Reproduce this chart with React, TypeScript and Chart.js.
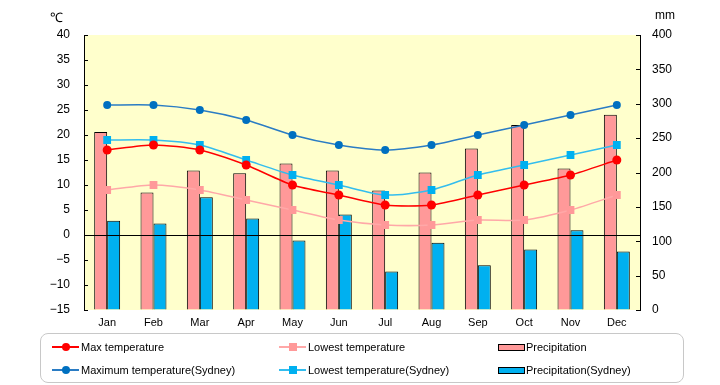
import React, { useEffect, useRef } from "react";
import { Chart, registerables } from "chart.js";
Chart.register(...registerables);

const months = ["Jan", "Feb", "Mar", "Apr", "May", "Jun", "Jul", "Aug", "Sep", "Oct", "Nov", "Dec"];
const maxTemp = [17, 18, 17, 14, 10, 8, 6, 6, 8, 10, 12, 15];
const lowTemp = [9, 10, 9, 7, 5, 3, 2, 2, 3, 3, 5, 8];
const precip = [259, 171, 203, 199, 213, 203, 174, 200, 235, 269, 206, 284];
const sydMax = [26, 26, 25, 23, 20, 18, 17, 18, 20, 22, 24, 26];
const sydLow = [19, 19, 18, 15, 12, 10, 8, 9, 12, 14, 16, 18];
const sydPrecip = [130, 126, 164, 133, 101, 139, 56, 98, 65, 88, 116, 85];

const FONT = "'Liberation Sans', Arial, sans-serif";

const C_RED = "#FF0000";
const C_PINK_LINE = "#FFA8A8";
const C_PINK = "#FF9999";
const C_DBLUE = "#0070C0";
const C_DBLUE_LINE = "#2A7CC4";
const C_LBLUE = "#00B0F0";
const C_LBLUE_LINE = "#33BDEE";

const areaPlugin = {
  id: "areaDeco",
  beforeDraw(chart: any) {
    const { ctx, chartArea } = chart;
    ctx.save();
    ctx.fillStyle = "#FFFFCC";
    ctx.fillRect(chartArea.left, chartArea.top, chartArea.right - chartArea.left, chartArea.bottom - chartArea.top);
    ctx.restore();
  },
  afterDatasetsDraw(chart: any) {
    const { ctx, chartArea, scales } = chart;
    ctx.save();
    ctx.strokeStyle = "#000";
    ctx.lineWidth = 1;
    const y0 = Math.round(scales.y.getPixelForValue(0)) + 0.5;
    ctx.beginPath();
    ctx.moveTo(chartArea.left, y0);
    ctx.lineTo(chartArea.right, y0);
    ctx.stroke();
    ctx.beginPath();
    scales.y.ticks.forEach((t: any) => {
      const py = Math.round(scales.y.getPixelForValue(t.value)) + 0.5;
      ctx.moveTo(chartArea.left, py);
      ctx.lineTo(chartArea.left + 4, py);
    });
    scales.y2.ticks.forEach((t: any) => {
      const py = Math.round(scales.y2.getPixelForValue(t.value)) + 0.5;
      ctx.moveTo(chartArea.right, py);
      ctx.lineTo(chartArea.right - 4, py);
    });
    ctx.stroke();
    ctx.restore();
  },
};

type LegendDef = { kind: "circle" | "square" | "bar"; color: string; line?: string; label: string; x: number; y: number };

const legendItems: LegendDef[] = [
  { kind: "circle", color: C_RED, line: C_RED, label: "Max temperature", x: 52, y: 347 },
  { kind: "square", color: C_PINK, line: C_PINK_LINE, label: "Lowest temperature", x: 279, y: 347 },
  { kind: "bar", color: C_PINK, label: "Precipitation", x: 498, y: 347 },
  { kind: "circle", color: C_DBLUE, line: C_DBLUE_LINE, label: "Maximum temperature(Sydney)", x: 52, y: 370 },
  { kind: "square", color: C_LBLUE, line: C_LBLUE_LINE, label: "Lowest temperature(Sydney)", x: 279, y: 370 },
  { kind: "bar", color: C_LBLUE, label: "Precipitation(Sydney)", x: 498, y: 370 },
];

function LegendItem({ d }: { d: LegendDef }) {
  const w = 27;
  return (
    <div style={{ position: "absolute", left: d.x, top: d.y - 8, height: 16, width: 220 }}>
      {d.kind === "bar" ? (
        <div style={{ position: "absolute", left: 0, top: 5, width: 25, height: 5, background: d.color, border: "1px solid #000" }} />
      ) : (
        <>
          <div style={{ position: "absolute", left: 0, top: 7, width: w, height: 1.5, background: d.line }} />
          <div
            style={{
              position: "absolute",
              left: w / 2 - 4,
              top: 4,
              width: 8,
              height: 8,
              borderRadius: d.kind === "circle" ? "50%" : 0,
              background: d.color,
            }}
          />
        </>
      )}
      <span
        style={{
          position: "absolute",
          left: d.kind === "bar" ? 28 : 29,
          top: 0,
          lineHeight: "16px",
          fontSize: 11,
          fontFamily: FONT,
          color: "#000",
          whiteSpace: "nowrap",
        }}
      >
        {d.label}
      </span>
    </div>
  );
}

export default function App() {
  const ref = useRef<HTMLCanvasElement>(null);
  useEffect(() => {
    if (!ref.current) return;
    Chart.defaults.font.family = FONT;
    Chart.defaults.color = "#000";
    const chart = new Chart(ref.current, {
      type: "bar",
      data: {
        labels: months,
        datasets: [
          {
            type: "line",
            label: "Max temperature",
            data: maxTemp,
            yAxisID: "y",
            borderColor: C_RED,
            backgroundColor: C_RED,
            borderWidth: 1.5,
            pointRadius: 4.5,
            pointBorderWidth: 0,
            pointStyle: "circle",
            tension: 0.25,
            order: 1,
          },
          {
            type: "line",
            label: "Lowest temperature",
            data: lowTemp,
            yAxisID: "y",
            borderColor: C_PINK_LINE,
            backgroundColor: C_PINK,
            borderWidth: 1.5,
            pointRadius: 5.5,
            pointStyle: "rect",
            pointBorderWidth: 0,
            tension: 0.25,
            order: 1,
          },
          {
            type: "bar",
            label: "Precipitation",
            data: precip,
            yAxisID: "y2",
            backgroundColor: C_PINK,
            borderColor: "#000",
            borderWidth: 1,
            order: 2,
          },
          {
            type: "line",
            label: "Maximum temperature(Sydney)",
            data: sydMax,
            yAxisID: "y",
            borderColor: C_DBLUE_LINE,
            backgroundColor: C_DBLUE,
            borderWidth: 1.5,
            pointRadius: 4,
            pointBorderWidth: 0,
            pointStyle: "circle",
            tension: 0.25,
            order: 1,
          },
          {
            type: "line",
            label: "Lowest temperature(Sydney)",
            data: sydLow,
            yAxisID: "y",
            borderColor: C_LBLUE_LINE,
            backgroundColor: C_LBLUE,
            borderWidth: 1.5,
            pointRadius: 5.5,
            pointStyle: "rect",
            pointBorderWidth: 0,
            tension: 0.25,
            order: 1,
          },
          {
            type: "bar",
            label: "Precipitation(Sydney)",
            data: sydPrecip,
            yAxisID: "y2",
            backgroundColor: C_LBLUE,
            borderColor: "#000",
            borderWidth: 1,
            order: 2,
          },
        ] as any,
      },
      options: {
        responsive: false,
        animation: false,
        events: [],
        layout: { padding: { top: 35, left: 0, right: 0, bottom: 0 } },
        datasets: { bar: { categoryPercentage: 0.56, barPercentage: 1 } } as any,
        plugins: { legend: { display: false }, tooltip: { enabled: false }, title: { display: false } },
        scales: {
          x: {
            offset: true,
            grid: { display: false, drawTicks: false },
            border: { display: false },
            ticks: { font: { size: 11, family: FONT }, color: "#000", padding: 6, maxRotation: 0 },
            afterFit: (a: any) => {
              a.height = 75;
            },
          },
          y: {
            position: "left",
            min: -15,
            max: 40,
            ticks: {
              stepSize: 5,
              font: { size: 12, family: FONT },
              color: "#000",
              padding: 14,
              callback: (v: any) => String(v).replace("-", "\u2212"),
            },
            grid: { display: true, drawTicks: false, drawOnChartArea: false, color: "rgba(0,0,0,0)" },
            border: { display: true, color: "#000", width: 1 },
            afterFit: (a: any) => {
              a.width = 84;
            },
          },
          y2: {
            position: "right",
            min: 0,
            max: 400,
            ticks: { stepSize: 50, font: { size: 12, family: FONT }, color: "#000", padding: 12 },
            grid: { display: true, drawTicks: false, drawOnChartArea: false, color: "rgba(0,0,0,0)" },
            border: { display: true, color: "#000", width: 1 },
            afterFit: (a: any) => {
              a.width = 80;
            },
          },
        },
      } as any,
      plugins: [areaPlugin],
    });
    return () => chart.destroy();
  }, []);

  return (
    <div style={{ position: "fixed", left: 0, top: 0, width: 720, height: 385, background: "#fff", overflow: "hidden" }}>
      <canvas ref={ref} width={720} height={385} style={{ display: "block", position: "absolute", left: 0, top: 0 }} />
      <div style={{ position: "absolute", left: 50, top: 8, fontSize: 13, fontFamily: FONT, color: "#000" }}>℃</div>
      <div style={{ position: "absolute", left: 655, top: 8, fontSize: 12, fontFamily: FONT, color: "#000" }}>mm</div>
      <div
        style={{
          position: "absolute",
          left: 40,
          top: 333,
          width: 642,
          height: 48,
          border: "1px solid #C8C8C8",
          borderRadius: 8,
          boxSizing: "content-box",
        }}
      />
      {legendItems.map((d) => (
        <LegendItem key={d.label} d={d} />
      ))}
    </div>
  );
}
